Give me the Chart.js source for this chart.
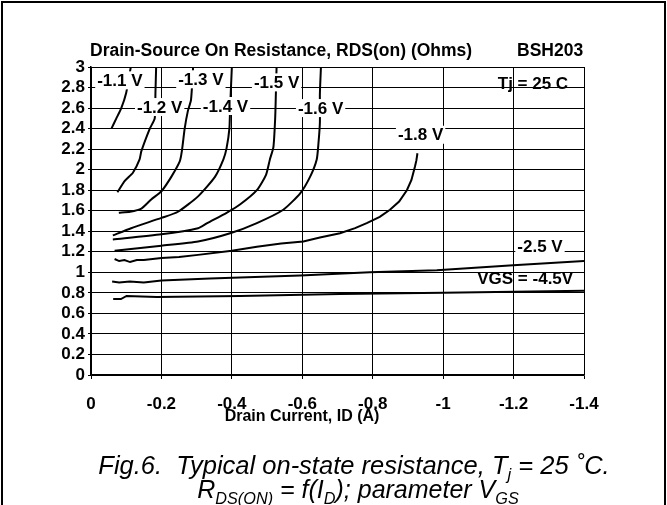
<!DOCTYPE html>
<html>
<head>
<meta charset="utf-8">
<script src="https://cdn.jsdelivr.net/npm/chart.js@4.4.1/dist/chart.umd.min.js"></script>
<style>
  html, body { margin: 0; padding: 0; background: #fff; }
  #wrap { width: 667px; height: 505px; }
</style>
</head>
<body>
<div id="wrap"><canvas id="rdsChart" width="667" height="505"></canvas></div>
<script>
// drain current (A) and RDS(on) (Ohms), one pair per VGS curve
var id11 = [-0.058, -0.072, -0.086, -0.100, -0.113];
var r11  = [2.40, 2.50, 2.60, 2.75, 3.00];

var id12 = [-0.075, -0.096, -0.119, -0.138, -0.143, -0.167, -0.181, -0.183, -0.185];
var r12  = [1.78, 1.89, 1.97, 2.10, 2.18, 2.40, 2.50, 2.75, 3.00];

var id13 = [-0.079, -0.111, -0.143, -0.171, -0.200, -0.228, -0.252, -0.258, -0.266, -0.275, -0.284, -0.290];
var r13  = [1.58, 1.59, 1.62, 1.71, 1.79, 1.93, 2.08, 2.18, 2.40, 2.57, 2.68, 3.00];

var id14 = [-0.062, -0.114, -0.200, -0.247, -0.304, -0.352, -0.376, -0.385, -0.393, -0.395, -0.400];
var r14  = [1.36, 1.43, 1.53, 1.59, 1.74, 1.93, 2.10, 2.21, 2.40, 2.60, 3.00];

var id15 = [-0.062, -0.200, -0.304, -0.330, -0.385, -0.423, -0.471, -0.497, -0.508, -0.518, -0.523, -0.525, -0.527];
var r15  = [1.32, 1.37, 1.43, 1.48, 1.58, 1.66, 1.80, 1.95, 2.10, 2.22, 2.50, 2.74, 3.00];

var id16 = [-0.067, -0.200, -0.304, -0.395, -0.471, -0.546, -0.594, -0.622, -0.641, -0.646, -0.650, -0.650, -0.653];
var r16  = [1.21, 1.26, 1.30, 1.38, 1.48, 1.61, 1.77, 1.93, 2.10, 2.26, 2.46, 2.74, 3.00];

var id18 = [-0.067, -0.080, -0.095, -0.111, -0.130, -0.150, -0.175, -0.200, -0.250, -0.304, -0.400, -0.471,
            -0.540, -0.603, -0.650, -0.707, -0.750, -0.783, -0.820, -0.849, -0.875, -0.897, -0.910, -0.920, -0.924, -0.927];
var r18  = [1.13, 1.11, 1.12, 1.10, 1.12, 1.12, 1.13, 1.14, 1.15, 1.17, 1.21, 1.25,
            1.28, 1.30, 1.34, 1.38, 1.43, 1.48, 1.54, 1.61, 1.69, 1.80, 1.90, 2.03, 2.09, 2.16];

var id25 = [-0.060, -0.080, -0.110, -0.150, -0.200, -0.338, -0.594, -0.792, -0.982, -1.199, -1.400];
var r25  = [0.91, 0.90, 0.91, 0.90, 0.92, 0.94, 0.97, 1.00, 1.02, 1.07, 1.11];

var id45 = [-0.063, -0.085, -0.101, -0.187, -0.423, -0.707, -1.000, -1.400];
var r45  = [0.74, 0.74, 0.77, 0.76, 0.77, 0.79, 0.80, 0.82];

var xTickValues = [0, -0.2, -0.4, -0.6, -0.8, -1, -1.2, -1.4];
var xTickLabels = ['0', '-0.2', '-0.4', '-0.6', '-0.8', '-1', '-1.2', '-1.4'];
var yTickValues = [0, 0.2, 0.4, 0.6, 0.8, 1, 1.2, 1.4, 1.6, 1.8, 2, 2.2, 2.4, 2.6, 2.8, 3];
var yTickLabels = ['0', '0.2', '0.4', '0.6', '0.8', '1', '1.2', '1.4', '1.6', '1.8', '2', '2.2', '2.4', '2.6', '2.8', '3'];

// curve labels placed in data coordinates
var noteText = ['-1.1 V', '-1.2 V', '-1.3 V', '-1.4 V', '-1.5 V', '-1.6 V', '-1.8 V', 'Tj = 25 C', '-2.5 V', 'VGS = -4.5V'];
var noteX    = [-0.082, -0.195, -0.312, -0.382, -0.527, -0.652, -0.936, -1.255, -1.275, -1.233];
var noteY    = [2.87, 2.61, 2.88, 2.62, 2.85, 2.60, 2.34, 2.84, 1.25, 0.94];
var noteBox  = [true, true, true, true, true, true, true, false, true, false];

var BOLD = '"Liberation Sans", Arial, Helvetica, sans-serif';

function pairs(xs, ys) {
    return xs.map(function (x, i) { return { x: x, y: ys[i] }; });
}

function curve(xs, ys, tension) {
    return {
        data: pairs(xs, ys),
        borderColor: '#000',
        borderWidth: 2,
        pointRadius: 0,
        tension: tension,
        fill: false
    };
}

function labelFor(values, labels, v) {
    for (var i = 0; i < values.length; i++) {
        if (Math.abs(values[i] - v) < 1e-6) return labels[i];
    }
    return '';
}

// draws a line of text where some pieces are subscripts
function richText(ctx, parts, cx, baseY, size) {
    var total = 0;
    parts.forEach(function (p) {
        ctx.font = 'italic ' + (p[1] ? size * 0.65 : size) + 'px ' + BOLD;
        total += ctx.measureText(p[0]).width;
    });
    var x = cx - total / 2;
    ctx.textAlign = 'left';
    ctx.textBaseline = 'alphabetic';
    parts.forEach(function (p) {
        ctx.font = 'italic ' + (p[1] ? size * 0.65 : size) + 'px ' + BOLD;
        ctx.fillText(p[0], x, baseY + (p[1] ? size * 0.25 : 0));
        x += ctx.measureText(p[0]).width;
    });
}

var decorations = {
    id: 'decorations',
    afterDatasetsDraw: function (chart) {
        var ctx = chart.ctx;
        var xs = chart.scales.x, ys = chart.scales.y;
        ctx.save();
        ctx.font = 'bold 17px ' + BOLD;
        ctx.textAlign = 'center';
        ctx.textBaseline = 'middle';
        for (var i = 0; i < noteText.length; i++) {
            var px = xs.getPixelForValue(noteX[i]);
            var py = ys.getPixelForValue(noteY[i]);
            var w = ctx.measureText(noteText[i]).width;
            if (noteBox[i]) {
                ctx.fillStyle = '#fff';
                ctx.fillRect(px - w / 2 - 2, py - 9, w + 4, 18);
            }
            ctx.fillStyle = '#000';
            ctx.fillText(noteText[i], px, py + 1);
        }
        ctx.restore();
    },
    afterDraw: function (chart) {
        var ctx = chart.ctx;
        ctx.save();
        ctx.fillStyle = '#000';
        ctx.textBaseline = 'middle';

        ctx.font = 'bold 17.5px ' + BOLD;
        ctx.textAlign = 'left';
        ctx.fillText('Drain-Source On Resistance, RDS(on) (Ohms)', 90, 51);
        ctx.fillText('BSH203', 517, 51);

        ctx.font = 'bold 16px ' + BOLD;
        ctx.textAlign = 'center';
        ctx.fillText('Drain Current, ID (A)', 302, 417);

        richText(ctx, [['Fig.6.  Typical on-state resistance, T', 0], ['j', 1], [' = 25 \u02DAC.', 0]], 354, 474, 25.5);
        richText(ctx, [['R', 0], ['DS(ON)', 1], [' = f(I', 0], ['D', 1], ['); parameter V', 0], ['GS', 1]], 358, 498, 25);

        // outer frame (open at the bottom)
        ctx.strokeStyle = '#000';
        ctx.lineWidth = 2;
        ctx.beginPath();
        ctx.moveTo(2, 505);
        ctx.lineTo(2, 2);
        ctx.lineTo(665, 2);
        ctx.lineTo(665, 505);
        ctx.stroke();
        ctx.restore();
    }
};

var chart = new Chart(document.getElementById('rdsChart'), {
    type: 'line',
    data: {
        datasets: [
            curve(id11, r11, 0.2), curve(id12, r12, 0.2), curve(id13, r13, 0.2),
            curve(id14, r14, 0.2), curve(id15, r15, 0.2), curve(id16, r16, 0.2),
            curve(id18, r18, 0), curve(id25, r25, 0), curve(id45, r45, 0)
        ]
    },
    options: {
        responsive: false,
        animation: false,
        layout: { padding: { top: 67, right: 83, left: 0, bottom: 0 } },
        plugins: { legend: { display: false }, tooltip: { enabled: false } },
        scales: {
            x: {
                type: 'linear',
                min: -1.4,
                max: 0,
                reverse: true,
                afterBuildTicks: function (s) {
                    s.ticks = xTickValues.map(function (v) { return { value: v }; });
                },
                afterFit: function (s) { s.height = 130; },
                ticks: {
                    autoSkip: false,
                    maxRotation: 0,
                    padding: 15,
                    color: '#000',
                    font: { family: BOLD, size: 17, weight: 'bold' },
                    callback: function (v) { return labelFor(xTickValues, xTickLabels, v); }
                },
                grid: { color: '#000', lineWidth: 1, tickLength: 4 },
                border: { color: '#000', width: 1.5 }
            },
            y: {
                type: 'linear',
                min: 0,
                max: 3,
                afterBuildTicks: function (s) {
                    s.ticks = yTickValues.map(function (v) { return { value: v }; });
                },
                afterFit: function (s) { s.width = 91; },
                ticks: {
                    autoSkip: false,
                    padding: 3,
                    color: '#000',
                    font: { family: BOLD, size: 17, weight: 'bold' },
                    callback: function (v) { return labelFor(yTickValues, yTickLabels, v); }
                },
                grid: { color: '#000', lineWidth: 1, tickLength: 3 },
                border: { color: '#000', width: 1.5 }
            }
        }
    },
    plugins: [decorations]
});
</script>
</body>
</html>
